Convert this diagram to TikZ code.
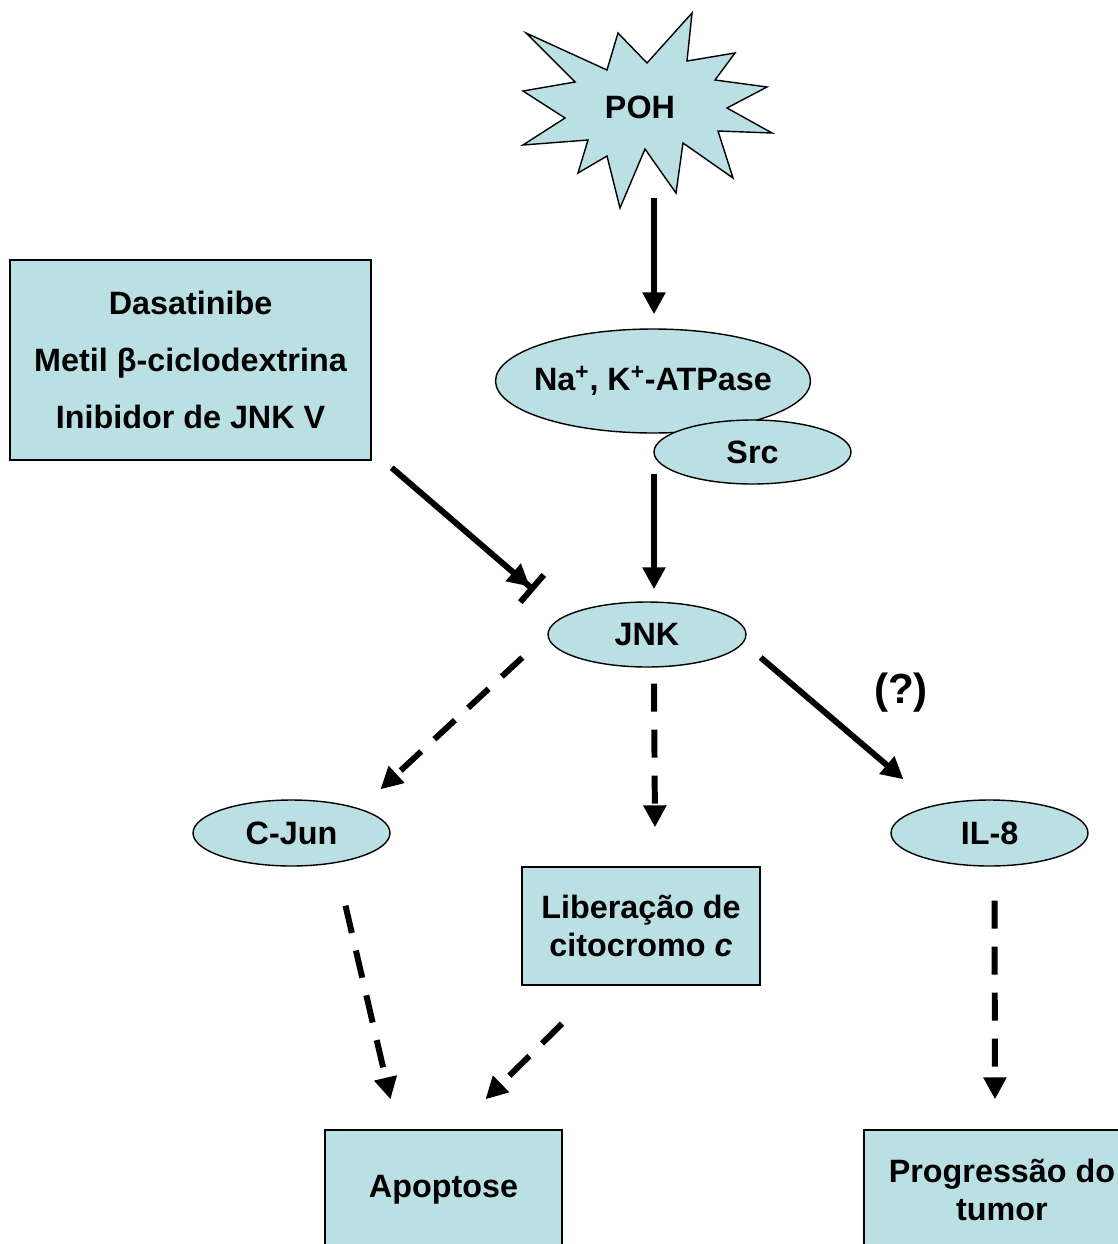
\documentclass[tikz,border=0pt]{standalone}
\usepackage{fontspec}
\setmainfont{Liberation Sans}
\usetikzlibrary{arrows.meta, shapes.geometric}
\definecolor{cellblue}{RGB}{187,224,228}
\tikzset{%
	prot/.style={draw, ellipse, fill=cellblue, inner sep=-5mm, line width=0.8pt},
	cellbox/.style={draw, rectangle, fill=cellblue, inner sep=0mm, line width=0.8pt, align=center},
	burst/.style={draw, fill=cellblue, line width=0.8pt, line join=miter},
	act/.style={-{Triangle[length=0.44cm, width=0.44cm]}, line width=3.4pt},
	maybe/.style={act, dash pattern=on 0.56cm off 0.36cm},
	inhib/.style={-{Triangle[length=0.44cm, width=0.44cm] Bar[width=0.72cm]}, line width=3.4pt}
}

\begin{document}
\begin{tikzpicture}[x=0.02cm, y=-0.02cm,
	every node/.style={font=\fontsize{18.4}{21.5}\selectfont\bfseries}]
	\useasboundingbox (0,0) rectangle (1118,1244);

	\draw[burst] (526,33) -- (607,70) -- (618,33) -- (647,63) -- (692,13) -- (687,61)
		-- (735,53) -- (715,80) -- (767,87) -- (727,108) -- (772,133) -- (718,131)
		-- (733,178) -- (683,143) -- (676,193) -- (645,149) -- (620,208) -- (607,156)
		-- (578,173) -- (588,140) -- (523,145) -- (565,118) -- (523,91) -- (575,82) -- cycle;
	\node (poh) at (640,107) {POH};

	\node[cellbox, minimum width=7.22cm, minimum height=4cm,
		font=\fontsize{18.4}{32.6}\selectfont\bfseries] (dasat) at (190.5,360)
		{Dasatinibe\\Metil β-ciclodextrina\\Inibidor de JNK V};

	\node[prot, minimum width=6.3cm, minimum height=2.08cm] (natpase) at (653,381)
		{Na\textsuperscript{+}, K\textsuperscript{+}-ATPase};
	\node[prot, minimum width=3.94cm, minimum height=1.28cm] (src) at (752.5,452) {Src};
	\node[prot, minimum width=3.96cm, minimum height=1.3cm] (jnk) at (647,634.5) {JNK};
	\node[prot, minimum width=3.94cm, minimum height=1.32cm] (cjun) at (291.5,833) {C-Jun};
	\node[prot, minimum width=3.94cm, minimum height=1.32cm] (il8) at (989.5,833) {IL-8};
	\node[font=\fontsize{24}{28}\selectfont\bfseries] (unsure) at (901,693) {(?)};

	\node[cellbox, minimum width=4.76cm, minimum height=2.36cm] (lib) at (641,926)
		{Liberação de\\citocromo \textit{c}};
	\node[cellbox, minimum width=4.74cm, minimum height=2.4cm] (apo) at (443.5,1190) {Apoptose};
	\node[cellbox, minimum width=5.52cm, minimum height=2.4cm,
		font=\fontsize{18.4}{22}\selectfont\bfseries] (prog) at (1002,1190)
		{Progressão do\\tumor};

	\draw[act] ([shift={(14,91)}]poh.center) -- ([shift={(1,-14)}]natpase.north);
	\draw[act] ([shift={(1,40)}]natpase.south) -- ([shift={(7,-12)}]jnk.north);
	\draw[inhib] ([shift={(20,7)}]dasat.south east) -- ([shift={(-13,-44)}]jnk.west);
	\draw[maybe] ([shift={(-25,23)}]jnk.west) -- ([shift={(89,-10)}]cjun.north);
	\draw[maybe] ([shift={(7,16)}]jnk.south) -- ([shift={(14,-39)}]lib.north);
	\draw[act] ([shift={(14,23)}]jnk.east) -- ([shift={(-86,-20)}]il8.north);
	\draw[maybe] ([shift={(54,39)}]cjun.south) -- ([shift={(-53,-30)}]apo.north);
	\draw[maybe] ([shift={(-79,38)}]lib.south) -- ([shift={(42,-30)}]apo.north);
	\draw[maybe] ([shift={(5,34)}]il8.south) -- ([shift={(-7,-30)}]prog.north);
\end{tikzpicture}
\end{document}
